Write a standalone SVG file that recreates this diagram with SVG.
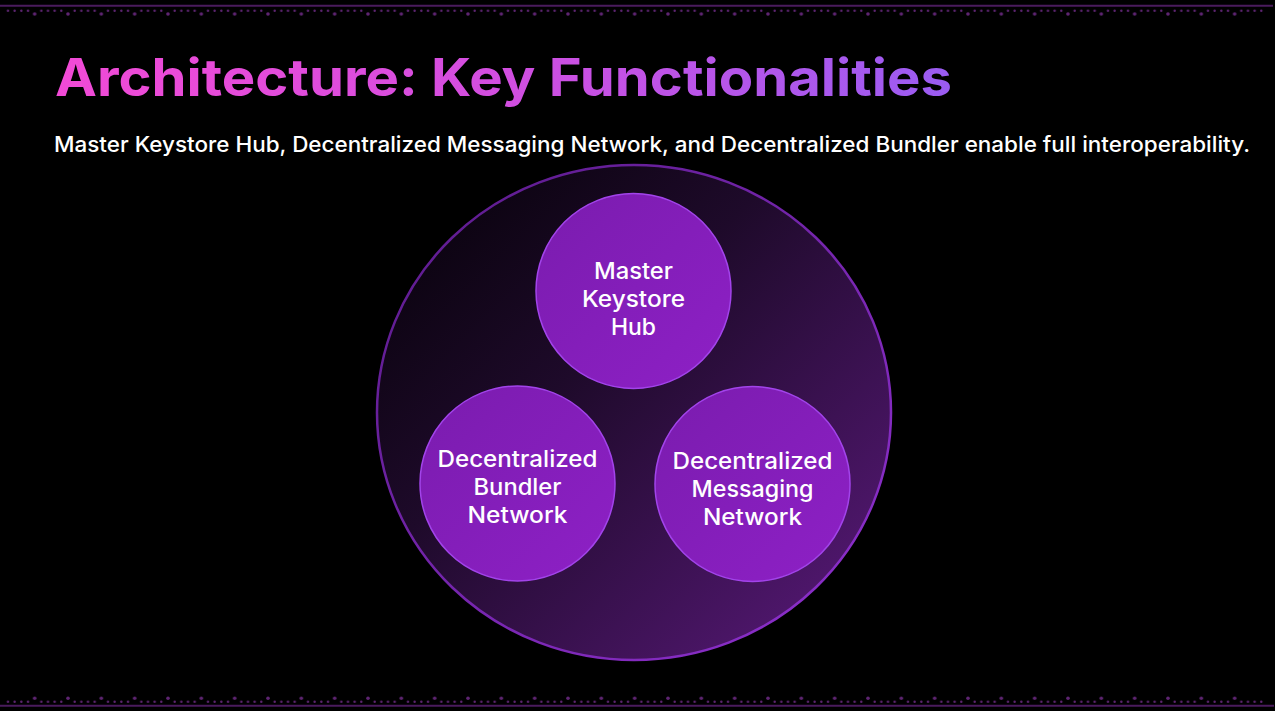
<svg xmlns="http://www.w3.org/2000/svg" width="1275" height="711" viewBox="0 0 1275 711">
  <defs>
    <linearGradient id="titleGrad" x1="55" y1="0" x2="952" y2="0" gradientUnits="userSpaceOnUse">
      <stop offset="0" stop-color="#f24ad6"/>
      <stop offset="0.5" stop-color="#d24ee0"/>
      <stop offset="1" stop-color="#9a5cf2"/>
    </linearGradient>
    <linearGradient id="outerGrad" x1="0" y1="0" x2="1" y2="1">
      <stop offset="0" stop-color="#040106"/>
      <stop offset="0.4" stop-color="#1e0a2a"/>
      <stop offset="1" stop-color="#5c1a7e"/>
    </linearGradient>
    <linearGradient id="outerStroke" x1="0" y1="0" x2="1" y2="1">
      <stop offset="0" stop-color="#5a1a8a"/>
      <stop offset="1" stop-color="#9030d0"/>
    </linearGradient>
    <linearGradient id="innerGrad" x1="0" y1="0" x2="1" y2="1">
      <stop offset="0" stop-color="#7a1cae"/>
      <stop offset="1" stop-color="#8e20c6"/>
    </linearGradient>
    <pattern id="dotsTop" x="18" y="0" width="33.333" height="20" patternUnits="userSpaceOnUse">
      <circle cx="3.333" cy="10.7" r="1.2" fill="#5e2472"/>
      <circle cx="10" cy="10.7" r="1.2" fill="#5e2472"/>
      <circle cx="16.667" cy="14" r="1.8" fill="#5e2472"/>
      <circle cx="23.333" cy="10.7" r="1.2" fill="#5e2472"/>
      <circle cx="30" cy="10.7" r="1.2" fill="#5e2472"/>
    </pattern>
    <pattern id="dotsBottom" x="18" y="690" width="33.333" height="20" patternUnits="userSpaceOnUse">
      <circle cx="3.333" cy="11.7" r="1.2" fill="#5e2472"/>
      <circle cx="10" cy="11.7" r="1.2" fill="#5e2472"/>
      <circle cx="16.667" cy="8.3" r="1.8" fill="#5e2472"/>
      <circle cx="23.333" cy="11.7" r="1.2" fill="#5e2472"/>
      <circle cx="30" cy="11.7" r="1.2" fill="#5e2472"/>
    </pattern>
  </defs>
  <style>
    .title { font-family: Inter, "Noto Sans", "Liberation Sans", sans-serif; font-weight: 700; font-size: 52px; fill: url(#titleGrad); }
    .sub { font-family: Inter, "Noto Sans", "Liberation Sans", sans-serif; font-weight: 500; font-size: 21.5px; fill: #ffffff; }
    .node circle { fill: url(#innerGrad); stroke: #a244ea; stroke-width: 1.5; }
    .label { font-family: Inter, "Noto Sans", "Liberation Sans", sans-serif; font-weight: 500; font-size: 22.5px; fill: #ffffff; text-anchor: middle; }
    .border { stroke: #4a1b5c; stroke-width: 2; }
  </style>
  <rect x="0" y="0" width="1275" height="711" fill="#000000"/>

  <g id="border-top">
    <line class="border" x1="0" y1="5.7" x2="1273" y2="5.7"/>
    <rect x="4" y="0" width="1260" height="20" fill="url(#dotsTop)"/>
  </g>
  <g id="border-bottom">
    <line class="border" x1="0" y1="705.7" x2="1274" y2="705.7"/>
    <rect x="4" y="690" width="1260" height="15" fill="url(#dotsBottom)"/>
  </g>

  <text class="title" x="55" y="96" textLength="897" lengthAdjust="spacingAndGlyphs">Architecture: Key Functionalities</text>
  <text class="sub" x="54" y="152" textLength="1196" lengthAdjust="spacingAndGlyphs">Master Keystore Hub, Decentralized Messaging Network, and Decentralized Bundler enable full interoperability.</text>

  <g id="container">
    <ellipse cx="634" cy="412.5" rx="257" ry="247.5" fill="url(#outerGrad)" stroke="url(#outerStroke)" stroke-width="2.5"/>
  </g>

  <g id="connectors"></g>

  <g id="node-master-keystore-hub" class="node">
    <circle cx="633.5" cy="291" r="97.5"/>
    <text class="label" x="633.5" y="279" textLength="79" lengthAdjust="spacingAndGlyphs">Master</text>
    <text class="label" x="633.5" y="307" textLength="103" lengthAdjust="spacingAndGlyphs">Keystore</text>
    <text class="label" x="633.5" y="335" textLength="45" lengthAdjust="spacingAndGlyphs">Hub</text>
  </g>
  <g id="node-decentralized-bundler-network" class="node">
    <circle cx="517.5" cy="483.5" r="97.5"/>
    <text class="label" x="517.5" y="467" textLength="160" lengthAdjust="spacingAndGlyphs">Decentralized</text>
    <text class="label" x="517.5" y="495" textLength="88" lengthAdjust="spacingAndGlyphs">Bundler</text>
    <text class="label" x="517.5" y="523" textLength="100" lengthAdjust="spacingAndGlyphs">Network</text>
  </g>
  <g id="node-decentralized-messaging-network" class="node">
    <circle cx="752.5" cy="484" r="97.5"/>
    <text class="label" x="752.5" y="469" textLength="160" lengthAdjust="spacingAndGlyphs">Decentralized</text>
    <text class="label" x="752.5" y="497" textLength="122" lengthAdjust="spacingAndGlyphs">Messaging</text>
    <text class="label" x="752.5" y="525" textLength="99" lengthAdjust="spacingAndGlyphs">Network</text>
  </g>
</svg>
